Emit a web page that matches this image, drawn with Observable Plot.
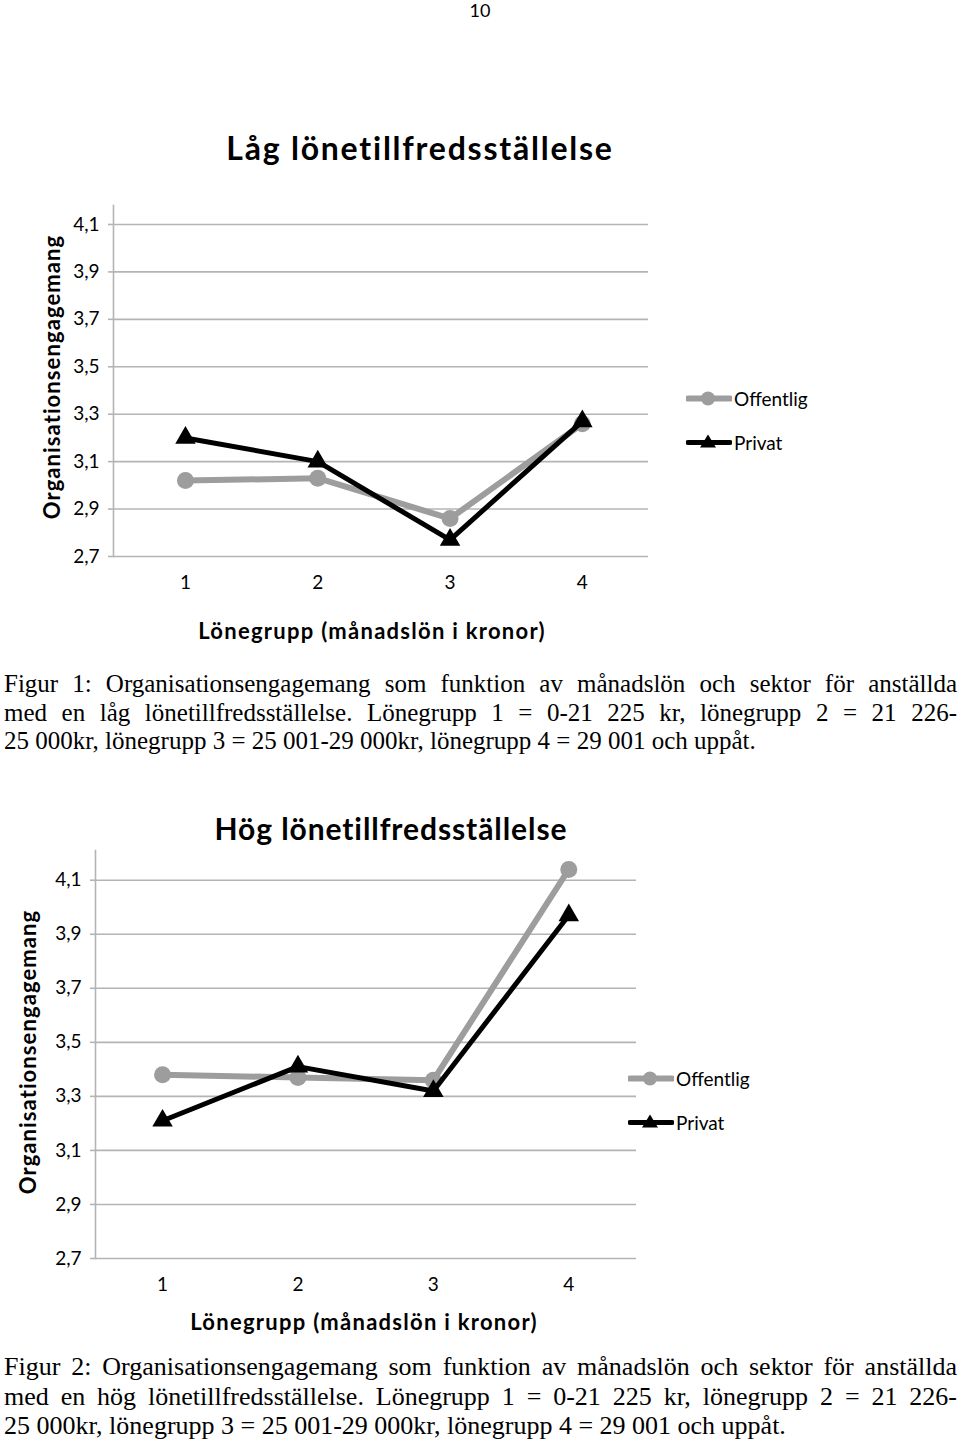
<!DOCTYPE html>
<html><head><meta charset="utf-8">
<script src="https://cdn.jsdelivr.net/npm/d3@7"></script>
<script src="https://cdn.jsdelivr.net/npm/@observablehq/plot@0.6"></script>
<style>
body{margin:0;background:#fff;}
#page{position:relative;width:960px;height:1442px;overflow:hidden;font-family:Lato,"Open Sans",sans-serif;color:#000;background:#fff}
.abs{position:absolute;white-space:nowrap;line-height:1.2}
.title{font-weight:700;transform:translate(-50%,-50%)}
.xlab{font-weight:700;font-size:22px;transform:translate(-50%,-50%)}
.ylab{font-weight:700;font-size:22px;transform:translate(-50%,-50%) rotate(-90deg)}
.cap{position:absolute;left:4px;width:953px;font-family:"Liberation Serif","Times New Roman",serif}
.cap div{white-space:nowrap}
.cap .j{text-align:justify;text-align-last:justify;white-space:normal}
.leg{position:absolute;display:flex;align-items:center;font-size:19px;transform:translateY(-50%)}
.plot{position:absolute;left:0}
</style></head><body><div id="page"></div>
<script>
// ---- data ----
const groups = [1, 2, 3, 4];
const seriesNames = ["Offentlig", "Privat"];
const lowOffentlig = [3.02, 3.03, 2.86, 3.26];
const lowPrivat = [3.20, 3.10, 2.77, 3.27];
const highOffentlig = [3.38, 3.37, 3.36, 4.14];
const highPrivat = [3.21, 3.41, 3.32, 3.97];
const yTicks = [2.7, 2.9, 3.1, 3.3, 3.5, 3.7, 3.9, 4.1];
const xTicks = [1, 2, 3, 4];
const titles = ["Låg lönetillfredsställelse", "Hög lönetillfredsställelse"];
const xLabel = "Lönegrupp (månadslön i kronor)";
const yLabel = "Organisationsengagemang";
const captions = [
  ["Figur 1: Organisationsengagemang som funktion av månadslön och sektor för anställda",
   "med en låg lönetillfredsställelse. Lönegrupp 1 = 0-21 225 kr, lönegrupp 2 = 21 226-",
   "25 000kr, lönegrupp 3 = 25 001-29 000kr, lönegrupp 4 = 29 001 och uppåt."],
  ["Figur 2: Organisationsengagemang som funktion av månadslön och sektor för anställda",
   "med en hög lönetillfredsställelse. Lönegrupp 1 = 0-21 225 kr, lönegrupp 2 = 21 226-",
   "25 000kr, lönegrupp 3 = 25 001-29 000kr, lönegrupp 4 = 29 001 och uppåt."]
];

const GRAY = "#9d9d9d", GRID = "#b4b4b4";
const page = document.getElementById("page");
const fmt = d => d.toFixed(1).replace(".", ",");

function rows(off, pri) {
  return [
    ...groups.map((g, i) => ({group: g, value: off[i], series: seriesNames[0]})),
    ...groups.map((g, i) => ({group: g, value: pri[i], series: seriesNames[1]}))
  ];
}

function chart(cfg) {
  const data = rows(cfg.off, cfg.pri);
  const off = data.filter(d => d.series === seriesNames[0]);
  const pri = data.filter(d => d.series === seriesNames[1]);
  const p = Plot.plot({
    width: 960, height: cfg.height,
    marginLeft: cfg.ml, marginRight: cfg.mr, marginTop: cfg.mt, marginBottom: cfg.mb,
    style: {fontFamily: "Lato, 'Open Sans', sans-serif", background: "transparent", overflow: "visible"},
    x: {type: "linear", domain: cfg.xd},
    y: {domain: cfg.yd},
    marks: [
      Plot.ruleY(yTicks, {stroke: GRID, strokeWidth: 1.6}),
      Plot.frame({anchor: "left", stroke: GRID, strokeWidth: 1.6}),
      Plot.axisY(yTicks, {tickSize: 5, tickPadding: 9, tickFormat: fmt, fontSize: 19, stroke: GRID, strokeWidth: 1.6, fill: "#000", label: null}),
      Plot.axisX(xTicks, {tickSize: 0, tickPadding: 19, tickFormat: d => String(d), fontSize: 19, fill: "#000", label: null}),
      Plot.line(off, {x: "group", y: "value", stroke: GRAY, strokeWidth: 6}),
      Plot.dot(off, {x: "group", y: "value", symbol: "circle", r: 8.5, fill: GRAY, stroke: "none"}),
      Plot.line(pri, {x: "group", y: "value", stroke: "#000", strokeWidth: 5}),
      Plot.dot(pri, {x: "group", y: "value", symbol: "triangle", r: 7.6, fill: "#000", stroke: "none"})
    ]
  });
  p.classList.add("plot");
  p.style.top = cfg.top + "px";
  page.appendChild(p);
}

function text(cls, str, x, y, extra, target) {
  const d = document.createElement("div");
  d.className = "abs " + cls;
  d.textContent = str;
  d.style.left = x + "px"; d.style.top = y + "px";
  if (extra) Object.assign(d.style, extra);
  page.appendChild(d);
  if (target) {
    const w = d.offsetWidth;
    const n = [...str].length;
    d.style.letterSpacing = ((target - w) / n).toFixed(2) + "px";
  }
  return d;
}

function legend(x, y) {
  const items = [
    {name: seriesNames[0], color: GRAY, sym: `<circle cx="22" cy="10" r="7" fill="${GRAY}"/>`, w: 6},
    {name: seriesNames[1], color: "#000", sym: `<path d="M22,2 L30,15 L14,15 Z" fill="#000"/>`, w: 5}
  ];
  items.forEach((it, i) => {
    const d = document.createElement("div");
    d.className = "leg";
    d.style.left = x + "px"; d.style.top = (y + i * 44) + "px";
    d.innerHTML = `<svg width="46" height="20" style="margin-right:2px"><line x1="2" x2="44" y1="10" y2="10" stroke="${it.color}" stroke-width="${it.w}" stroke-linecap="round"/>${it.sym}</svg><span>${it.name}</span>`;
    page.appendChild(d);
  });
}

function caption(lines, top, size, lh) {
  const c = document.createElement("div");
  c.className = "cap";
  c.style.top = top + "px";
  c.style.fontSize = size + "px";
  c.style.lineHeight = lh + "px";
  lines.forEach((l, i) => {
    const d = document.createElement("div");
    if (i < lines.length - 1) d.className = "j";
    d.textContent = l;
    c.appendChild(d);
  });
  page.appendChild(c);
}

// page number
text("", "10", 480, 11, {transform: "translate(-50%,-50%)", fontSize: "18px"});

// chart 1
text("title", titles[0], 420, 148, {fontSize: "32px"}, 388);
chart({off: lowOffentlig, pri: lowPrivat, top: 190, height: 430, ml: 113, mr: 312, mt: 15, mb: 64, xd: [0.456, 4.5], yd: [2.7, 4.18]});
text("ylab", yLabel, 52, 377, null, 285);
text("xlab", xLabel, 372, 631, null, 347);
legend(686, 398);
caption(captions[0], 670, 25, 28.5);

// chart 2
text("title", titles[1], 391, 828, {fontSize: "30px"}, 354);
chart({off: highOffentlig, pri: highPrivat, top: 840, height: 460, ml: 95, mr: 324, mt: 10, mb: 42, xd: [0.505, 4.5], yd: [2.7, 4.21]});
text("ylab", yLabel, 28, 1052, null, 285);
text("xlab", xLabel, 364, 1322, null, 347);
legend(628, 1078);
caption(captions[1], 1352, 26, 29.5);
</script></body></html>
